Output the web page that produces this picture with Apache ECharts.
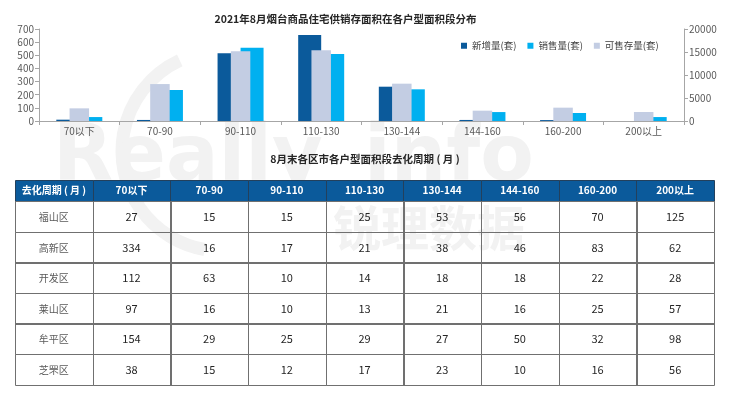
<!DOCTYPE html>
<html><head><meta charset="utf-8">
<script src="https://cdn.jsdelivr.net/npm/echarts@6/dist/echarts.min.js"></script>
<style>html,body{margin:0;padding:0;background:#fff}#c{width:740px;height:396px}</style>
</head><body><div id="c"></div>
<script>
// ---- chart data ----
const categories = ['70以下','70-90','90-110','110-130','130-144','144-160','160-200','200以上'];
const newSupply = [10, 8, 515, 654, 261, 8, 7, 0];        // 新增量(套), left axis
const sales = [30, 236, 558, 510, 241, 68, 61, 30];        // 销售量(套), left axis
const stock = [2750, 8030, 15140, 15370, 8115, 2246, 2900, 1956]; // 可售存量(套), right axis
const seriesNames = ['新增量(套)', '销售量(套)', '可售存量(套)'];
const chartTitle = '2021年8月烟台商品住宅供销存面积在各户型面积段分布';

// ---- table data ----
const tableTitle = '8月末各区市各户型面积段去化周期 ( 月 )';
const tableHeader = ['去化周期 ( 月 )','70以下','70-90','90-110','110-130','130-144','144-160','160-200','200以上'];
const districts = ['福山区','高新区','开发区','莱山区','牟平区','芝罘区'];
const fushan   = [27, 15, 15, 25, 53, 56, 70, 125];
const gaoxin   = [334, 16, 17, 21, 38, 46, 83, 62];
const kaifa    = [112, 63, 10, 14, 18, 18, 22, 28];
const laishan  = [97, 16, 10, 13, 21, 16, 25, 57];
const muping   = [154, 29, 25, 29, 27, 50, 32, 98];
const zhifu    = [38, 15, 12, 17, 23, 10, 16, 56];
const tableRows = [fushan, gaoxin, kaifa, laishan, muping, zhifu];

const FONT = '"Noto Sans CJK SC", "Noto Sans", sans-serif';
const C_DARK = '#0B5A9B', C_CYAN = '#00B0F0', C_GRAY = '#C3CDE3';
const WM = '#f2f2f2';

const headerData = tableHeader.map((_, i) => [i, 0]);
const bodyData = [];
districts.forEach((d, r) => {
  bodyData.push([0, r]);
  tableRows[r].forEach((_, c) => bodyData.push([c + 1, r]));
});
function bodyText(col, row) {
  return col === 0 ? districts[row] : String(tableRows[row][col - 1]);
}

function makeCell(isHeader) {
  return function (params, api) {
    const col = api.value(0), row = api.value(1);
    const p = api.coord([col, row]);
    const s = api.size([1, 1]);
    const x = Math.round(p[0] - s[0] / 2) + 0.5, y = Math.round(p[1] - s[1] / 2) + 0.5;
    const w = Math.round(s[0]), h = Math.round(s[1]);
    const txt = isHeader ? tableHeader[col] : bodyText(col, row);
    return {
      type: 'group',
      children: [
        { type: 'rect', shape: { x: x, y: y, width: w, height: h },
          style: { fill: isHeader ? C_DARK : 'rgba(255,255,255,0)', stroke: isHeader ? '#23405c' : '#707070', lineWidth: 1 } },
        { type: 'text', x: p[0], y: p[1] + (isHeader ? 0 : 1),
          style: { text: txt, align: 'center', verticalAlign: 'middle',
            fontFamily: FONT,
            fontSize: isHeader ? 10 : (col === 0 ? 10 : 11),
            fontWeight: isHeader ? 'bold' : 'normal',
            fill: isHeader ? '#ffffff' : (col === 0 ? '#595959' : '#262626') } }
      ]
    };
  };
}

const axisLabelStyle = { fontFamily: FONT, fontSize: 10, color: '#595959' };
const chart = echarts.init(document.getElementById('c'), null, { renderer: 'canvas' });
chart.setOption({
  animation: false,
  backgroundColor: '#ffffff',
  textStyle: { fontFamily: FONT },
  graphic: [
    { type: 'arc', z: -10, shape: { cx: 222, cy: 151, r: 100, startAngle: 100 * Math.PI / 180, endAngle: 245 * Math.PI / 180, clockwise: true },
      style: { stroke: WM, lineWidth: 13, fill: null } },
    { type: 'text', z: -10, x: 53, y: 160,
      style: { text: 'Really', fontFamily: '"DejaVu Sans", sans-serif', fontWeight: 'bold', fontSize: 78, fill: WM, verticalAlign: 'middle' } },
    { type: 'text', z: -10, x: 364, y: 160,
      style: { text: 'info', fontFamily: '"DejaVu Sans", sans-serif', fontWeight: 'bold', fontSize: 78, fill: WM, verticalAlign: 'middle' } },
    { type: 'text', z: -10, x: 333, y: 228,
      style: { text: '锐理数据', fontFamily: FONT, fontWeight: 'bold', fontSize: 48, fill: WM, verticalAlign: 'middle' } },
    { type: 'text', x: 345.5, y: 19,
      style: { text: chartTitle, align: 'center', verticalAlign: 'middle', fontFamily: FONT, fontWeight: 'bold', fontSize: 10.5, fill: '#262626' } },
    { type: 'text', x: 365, y: 159,
      style: { text: tableTitle, align: 'center', verticalAlign: 'middle', fontFamily: FONT, fontWeight: 'bold', fontSize: 10.5, fill: '#262626' } }
  ],
  legend: {
    data: seriesNames, left: 456, top: 36, icon: 'rect', itemWidth: 6, itemHeight: 6, itemGap: 11,
    textStyle: { fontFamily: FONT, fontSize: 9.5, color: '#404040' }
  },
  grid: [
    { left: 39, right: 56, top: 29, height: 92 },
    { left: 15, width: 699, top: 180, height: 21 },
    { left: 15, width: 699, top: 201, height: 183 }
  ],
  xAxis: [
    { type: 'category', gridIndex: 0, data: categories,
      axisLine: { lineStyle: { color: '#a6a6a6' } },
      axisTick: { show: true, length: 4, lineStyle: { color: '#a6a6a6' } },
      axisLabel: Object.assign({ margin: 5 }, axisLabelStyle) },
    { type: 'category', gridIndex: 0, data: categories, show: false },
    { type: 'category', gridIndex: 1, data: tableHeader, show: false },
    { type: 'category', gridIndex: 2, data: tableHeader, show: false }
  ],
  yAxis: [
    { type: 'value', gridIndex: 0, min: 0, max: 700, interval: 100, position: 'left',
      axisLine: { show: true, lineStyle: { color: '#a6a6a6' } },
      axisTick: { show: true, length: 4, lineStyle: { color: '#a6a6a6' } },
      splitLine: { show: false }, axisLabel: Object.assign({ margin: 5, formatter: v => String(v) }, axisLabelStyle) },
    { type: 'value', gridIndex: 0, min: 0, max: 20000, interval: 5000, position: 'right',
      axisLine: { show: true, lineStyle: { color: '#a6a6a6' } },
      axisTick: { show: true, length: 4, lineStyle: { color: '#a6a6a6' } },
      splitLine: { show: false }, axisLabel: Object.assign({ margin: 5, formatter: v => String(v) }, axisLabelStyle) },
    { type: 'category', gridIndex: 1, data: ['header'], show: false },
    { type: 'category', gridIndex: 2, data: districts, inverse: true, show: false }
  ],
  series: [
    { name: seriesNames[0], type: 'bar', xAxisIndex: 0, yAxisIndex: 0, data: newSupply,
      barWidth: 23, barGap: '0%', itemStyle: { color: C_DARK } },
    { name: seriesNames[1], type: 'bar', xAxisIndex: 0, yAxisIndex: 0, data: sales,
      barWidth: 23, barGap: '0%', itemStyle: { color: C_CYAN } },
    { name: seriesNames[2], type: 'bar', xAxisIndex: 1, yAxisIndex: 1, data: stock,
      barWidth: 19.5, z: 3, itemStyle: { color: C_GRAY } },
    { type: 'custom', xAxisIndex: 2, yAxisIndex: 2, data: headerData, renderItem: makeCell(true), encode: { x: 0, y: 1 }, silent: true },
    { type: 'custom', xAxisIndex: 3, yAxisIndex: 3, data: bodyData, renderItem: makeCell(false), encode: { x: 0, y: 1 }, silent: true }
  ]
});
</script>
</body></html>
